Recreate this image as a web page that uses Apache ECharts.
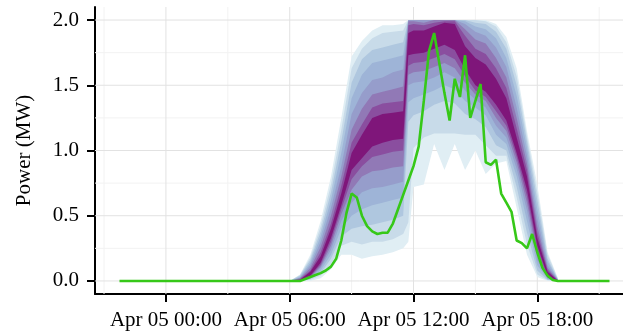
<!DOCTYPE html>
<html>
<head>
<meta charset="utf-8">
<script src="https://cdn.jsdelivr.net/npm/echarts@6/dist/echarts.min.js"></script>
<style>
  html, body { margin: 0; padding: 0; background: #ffffff; }
  #chart { width: 623px; height: 334px; }
</style>
</head>
<body>
<div id="chart"></div>
<script>
// All times are hours relative to Apr 05 00:00.

// Measured power, 15-minute steps from Apr 04 21:45 to Apr 05 21:30 (MW)
const actualStartHour = -2.25;
const actualStepHours = 0.25;
const actualPower = [
  0, 0, 0, 0, 0, 0, 0, 0, 0, 0, 0, 0,
  0, 0, 0, 0, 0, 0, 0, 0, 0, 0, 0, 0,
  0, 0, 0, 0, 0, 0, 0, 0, 0, 0, 0,
  0, 0.015, 0.03, 0.045, 0.06, 0.08, 0.11, 0.17, 0.31, 0.52,
  0.67, 0.64, 0.50, 0.42, 0.38, 0.36, 0.37, 0.37, 0.44, 0.55,
  0.66, 0.77, 0.88, 1.03, 1.38, 1.76, 1.90, 1.67, 1.44, 1.23,
  1.55, 1.41, 1.73, 1.25, 1.38, 1.51, 0.91, 0.89, 0.93, 0.67,
  0.60, 0.53, 0.31, 0.29, 0.25, 0.36, 0.22, 0.10, 0.04, 0.008,
  0,
  0, 0, 0, 0, 0, 0, 0, 0, 0, 0
];

// Forecast quantile fan, sampled at these hours
const fanHours = [6.0, 6.5, 7.0, 7.5, 8.0, 8.5, 9.0, 9.5, 10.0, 10.5, 11.0, 11.5, 11.75, 12.0,
  12.5, 13.0, 13.5, 14.0, 14.5, 15.0, 15.5, 16.0, 16.5, 17.0, 17.5, 18.0, 18.5, 19.0];

const q05 = [0, 0, 0, 0.02, 0.09, 0.2, 0.2, 0.17, 0.19, 0.2, 0.22, 0.25, 0.3, 0.72, 0.74, 1.05, 0.85, 1.05, 0.85, 1.0, 0.82, 0.9, 0.92, 0.56, 0.2, 0.03, 0, 0];
const q10 = [0, 0, 0.01, 0.04, 0.13, 0.27, 0.3, 0.28, 0.3, 0.3, 0.32, 0.36, 0.45, 1.02, 1.1, 1.13, 1.13, 1.13, 1.12, 1.12, 1.04, 0.96, 0.96, 0.64, 0.28, 0.05, 0.005, 0];
const q15 = [0, 0, 0.015, 0.06, 0.17, 0.34, 0.4, 0.42, 0.43, 0.45, 0.47, 0.5, 1.22, 1.27, 1.3, 1.35, 1.38, 1.36, 1.28, 1.24, 1.18, 1.04, 1.0, 0.72, 0.37, 0.08, 0.01, 0];
const q20 = [0, 0, 0.02, 0.08, 0.2, 0.4, 0.5, 0.55, 0.58, 0.6, 0.62, 0.64, 1.37, 1.4, 1.43, 1.46, 1.5, 1.47, 1.38, 1.33, 1.27, 1.12, 1.05, 0.8, 0.46, 0.12, 0.015, 0];
const q25 = [0, 0, 0.025, 0.1, 0.24, 0.46, 0.6, 0.68, 0.71, 0.72, 0.74, 0.76, 1.5, 1.52, 1.53, 1.56, 1.6, 1.56, 1.46, 1.39, 1.33, 1.19, 1.1, 0.86, 0.54, 0.16, 0.02, 0];
const q30 = [0, 0, 0.03, 0.11, 0.27, 0.51, 0.7, 0.8, 0.84, 0.85, 0.87, 0.88, 1.58, 1.6, 1.61, 1.64, 1.67, 1.63, 1.52, 1.43, 1.38, 1.25, 1.15, 0.91, 0.6, 0.2, 0.025, 0];
const q35 = [0, 0, 0.035, 0.125, 0.3, 0.55, 0.78, 0.88, 0.95, 0.97, 0.99, 1.0, 1.65, 1.67, 1.68, 1.71, 1.74, 1.7, 1.57, 1.46, 1.41, 1.3, 1.19, 0.95, 0.65, 0.24, 0.03, 0];
const q40 = [0, 0.003, 0.04, 0.14, 0.33, 0.58, 0.85, 0.94, 1.03, 1.06, 1.08, 1.09, 1.73, 1.74, 1.75, 1.78, 1.81, 1.77, 1.62, 1.5, 1.45, 1.35, 1.23, 0.98, 0.7, 0.27, 0.04, 0];
const q60 = [0, 0.01, 0.07, 0.19, 0.4, 0.67, 0.98, 1.12, 1.25, 1.28, 1.29, 1.3, 1.9, 1.92, 1.92, 1.95, 1.98, 1.97, 1.8, 1.71, 1.66, 1.55, 1.4, 1.1, 0.8, 0.33, 0.07, 0.002];
const q65 = [0, 0.015, 0.08, 0.22, 0.44, 0.73, 1.06, 1.2, 1.33, 1.36, 1.37, 1.38, 1.96, 1.97, 1.96, 1.98, 1.99, 1.99, 1.88, 1.78, 1.74, 1.63, 1.48, 1.17, 0.85, 0.37, 0.085, 0.004];
const q70 = [0, 0.02, 0.1, 0.26, 0.5, 0.8, 1.16, 1.32, 1.43, 1.45, 1.47, 1.49, 1.99, 1.99, 1.98, 2.0, 2.0, 2.0, 1.93, 1.85, 1.82, 1.71, 1.56, 1.25, 0.9, 0.42, 0.1, 0.006];
const q75 = [0, 0.025, 0.12, 0.3, 0.56, 0.88, 1.28, 1.44, 1.54, 1.56, 1.6, 1.62, 2.0, 2.0, 2.0, 2.0, 2.0, 2.0, 1.97, 1.91, 1.88, 1.79, 1.64, 1.33, 0.96, 0.48, 0.12, 0.008];
const q80 = [0, 0.03, 0.14, 0.34, 0.62, 0.98, 1.4, 1.58, 1.67, 1.69, 1.71, 1.73, 2.0, 2.0, 2.0, 2.0, 2.0, 2.0, 1.99, 1.95, 1.93, 1.86, 1.71, 1.42, 1.02, 0.55, 0.15, 0.01];
const q85 = [0, 0.04, 0.16, 0.38, 0.68, 1.07, 1.52, 1.7, 1.77, 1.79, 1.81, 1.83, 2.0, 2.0, 2.0, 2.0, 2.0, 2.0, 2.0, 1.98, 1.97, 1.91, 1.78, 1.5, 1.07, 0.62, 0.17, 0.012];
const q90 = [0, 0.045, 0.18, 0.42, 0.74, 1.16, 1.63, 1.78, 1.86, 1.9, 1.91, 1.92, 2.0, 2.0, 2.0, 2.0, 2.0, 2.0, 2.0, 2.0, 1.99, 1.95, 1.83, 1.57, 1.11, 0.68, 0.2, 0.016];
const q95 = [0, 0.05, 0.2, 0.46, 0.8, 1.25, 1.72, 1.84, 1.92, 1.96, 1.96, 1.97, 2.0, 2.0, 2.0, 2.0, 2.0, 2.0, 2.0, 2.0, 2.0, 1.97, 1.87, 1.63, 1.15, 0.74, 0.22, 0.02];

// Tick positions and labels
const xTickHours = [0, 6, 12, 18];
const xTickLabels = ['Apr 05 00:00', 'Apr 05 06:00', 'Apr 05 12:00', 'Apr 05 18:00'];
const xMinorHours = [-3, 3, 9, 15, 21];
const yTicks = [0, 0.5, 1.0, 1.5, 2.0];
const yMinorTicks = [0.25, 0.75, 1.25, 1.75];

// Quantile bounds ordered from lowest to highest; band j spans bounds[j]..bounds[15 - j]
const fanBounds = [q05, q10, q15, q20, q25, q30, q35, q40, q60, q65, q70, q75, q80, q85, q90, q95];
const fanColors = ['#e0eef4', '#c8dbe9', '#afc7df', '#9eb4d7', '#969dcb', '#9179b6', '#8a4e9f', '#7f167a'];

const FONT = 'Liberation Serif';
const INK = '#000000';

const chart = echarts.init(document.getElementById('chart'), null, { renderer: 'canvas' });

const actualSeriesData = actualPower.map((v, i) => [actualStartHour + i * actualStepHours, v]);

chart.setOption({
  animation: false,
  backgroundColor: '#ffffff',
  grid: { left: 95, right: -11, top: 7, bottom: 40, containLabel: false, outerBoundsMode: 'none' },
  xAxis: {
    type: 'value',
    min: -3.4375,
    max: 22.6875,
    axisLine: { show: true, onZero: false, lineStyle: { color: INK, width: 2 } },
    axisTick: { show: true, length: 8, customValues: xTickHours, lineStyle: { color: INK, width: 2 } },
    axisLabel: {
      customValues: xTickHours,
      formatter: (v) => xTickLabels[xTickHours.indexOf(v)],
      fontFamily: FONT, fontSize: 21, color: INK, margin: 16
    },
    splitLine: { show: false }
  },
  yAxis: {
    type: 'value',
    min: -0.1,
    max: 2.1,
    name: 'Power (MW)',
    nameLocation: 'middle',
    nameGap: 60,
    nameTextStyle: { fontFamily: FONT, fontSize: 21, color: INK },
    axisLine: { show: true, onZero: false, lineStyle: { color: INK, width: 2 } },
    axisTick: { show: true, length: 8, customValues: yTicks, lineStyle: { color: INK, width: 2 } },
    axisLabel: {
      customValues: yTicks,
      formatter: (v) => v.toFixed(1),
      fontFamily: FONT, fontSize: 21, color: INK, margin: 16
    },
    splitLine: { show: false }
  },
  series: [
    {
      // background grid: major lines at ticks, fainter minor lines between
      type: 'custom',
      silent: true,
      z: 1,
      data: [[0, 0]],
      renderItem: function (params, api) {
        const cs = params.coordSys;
        const children = [];
        const addV = (h, color) => {
          const p = api.coord([h, 0]);
          children.push({ type: 'line', shape: { x1: p[0], y1: cs.y, x2: p[0], y2: cs.y + cs.height },
            style: { stroke: color, lineWidth: 1 } });
        };
        const addH = (v, color) => {
          const p = api.coord([0, v]);
          children.push({ type: 'line', shape: { x1: cs.x, y1: p[1], x2: cs.x + cs.width, y2: p[1] },
            style: { stroke: color, lineWidth: 1 } });
        };
        xMinorHours.forEach(h => addV(h, '#f2f2f2'));
        yMinorTicks.forEach(v => addH(v, '#f2f2f2'));
        xTickHours.forEach(h => addV(h, '#e2e2e2'));
        yTicks.forEach(v => addH(v, '#e2e2e2'));
        return { type: 'group', children: children };
      }
    },
    {
      // quantile fan, nested from the widest interval inwards
      type: 'custom',
      silent: true,
      z: 2,
      data: [[fanHours[0], 0]],
      renderItem: function (params, api) {
        const children = [];
        for (let j = 0; j < 8; j++) {
          const lower = fanBounds[j];
          const upper = fanBounds[15 - j];
          const pts = [];
          for (let i = 0; i < fanHours.length; i++) pts.push(api.coord([fanHours[i], upper[i]]));
          for (let i = fanHours.length - 1; i >= 0; i--) pts.push(api.coord([fanHours[i], lower[i]]));
          children.push({ type: 'polygon', shape: { points: pts }, style: { fill: fanColors[j] } });
        }
        return { type: 'group', children: children };
      }
    },
    {
      type: 'line',
      z: 3,
      data: actualSeriesData,
      showSymbol: false,
      symbol: 'none',
      lineStyle: { color: '#36c818', width: 2.6 },
      itemStyle: { color: '#36c818' }
    }
  ]
});
</script>
</body>
</html>
